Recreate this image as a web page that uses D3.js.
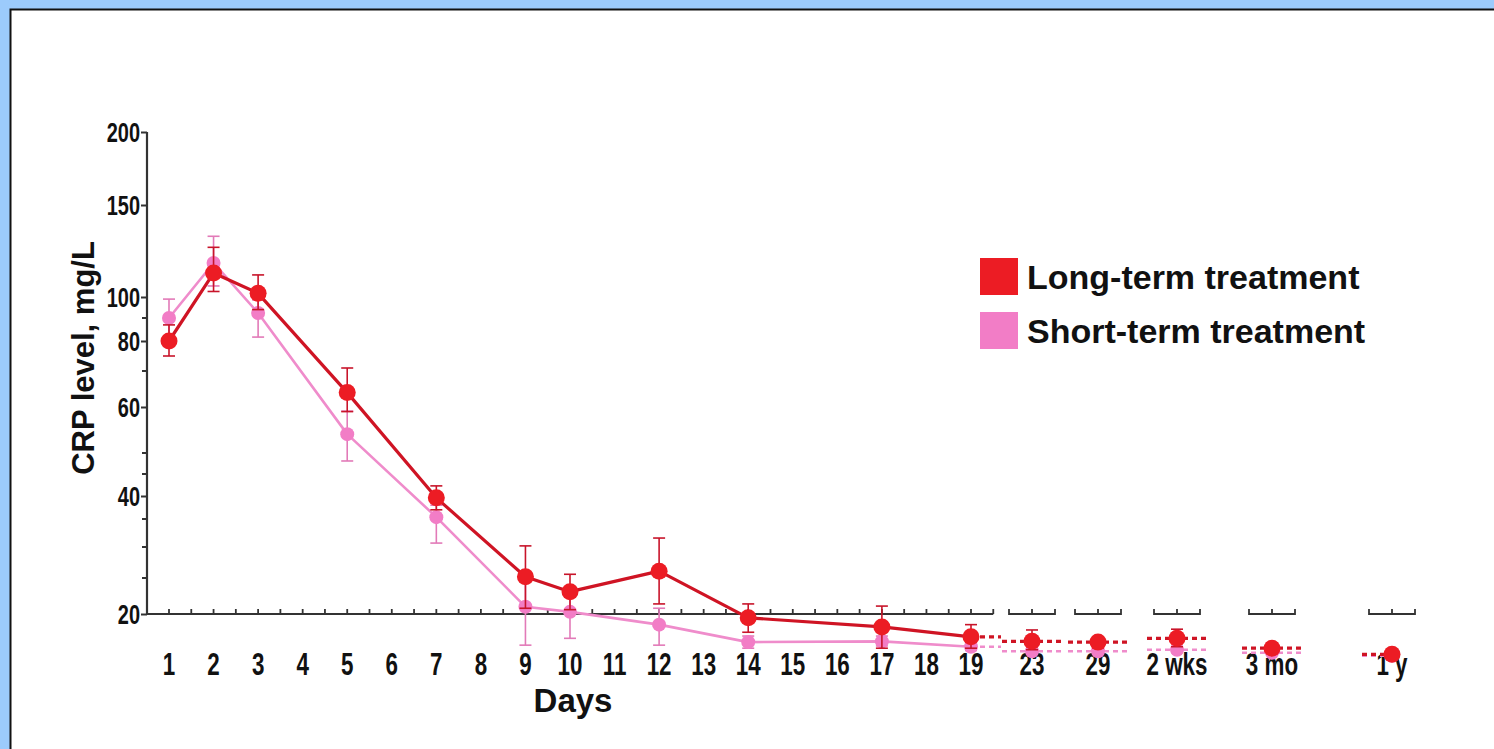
<!DOCTYPE html>
<html>
<head>
<meta charset="utf-8">
<script src="https://cdnjs.cloudflare.com/ajax/libs/d3/7.8.5/d3.min.js"></script>
<style>
    html, body { margin: 0; padding: 0; background: #9ccbfc; }
    svg { display: block; }
    .tick-label { font-family: "Liberation Sans Narrow", "Arial Narrow", sans-serif; font-weight: bold; fill: #111; }
    .title { font-family: "Liberation Sans", Arial, sans-serif; font-weight: bold; fill: #111; }
</style>
</head>
<body>
<div class="chart"></div>
<script>
(function() {

    // x categories that carry data
    var categories = ['1', '2', '3', '5', '7', '9', '10', '12', '14', '17', '19', '23', '29', '2 wks', '3 mo', '1 y'];

    // axis labels
    var dayLabels = ['1', '2', '3', '4', '5', '6', '7', '8', '9', '10', '11', '12', '13', '14', '15', '16', '17', '18', '19'];
    var laterLabels = ['23', '29', '2 wks', '3 mo', '1 y'];
    var yTickLabels = [20, 40, 60, 80, 100, 150, 200];
    var yMinorTicks = [25, 30, 35, 45, 50, 70, 90];

    // CRP, mg/L
    var longMean  = [80, 113, 102, 64, 39.6, 25.2, 23.1, 26.1, 19.5, 18.3, 17.0, 16.4, 16.3, 16.8, 15.5, 14.7];
    var longLow   = [75, 103, 94, 59, 37, 20.8, 20.6, 21.4, 17.6, 15.5, 15.5, 15.3, 15.6, 15.7, 15.0, 14.2];
    var longHigh  = [87, 127, 112, 71, 42.3, 30.2, 25.6, 31.6, 21.4, 21.1, 18.6, 17.9, 17.0, 18.0, 16.2, 15.3];

    var shortMean = [90, 118.5, 92.4, 54.1, 35.4, 21, 20.3, 18.6, 16.3, 16.4, 15.7, 15.1, 15.1, 15.3, 14.9, 14.5];
    var shortLow  = [82, 106, 81.7, 48.1, 30.7, 15.9, 16.8, 15.9, 15.5, 15.8, 15.2, 14.7, 14.7, 14.9, 14.6, 14.2];
    var shortHigh = [99, 133, 98.6, 59.1, 38, 25.5, 23.1, 20.8, 17.1, 17.1, 16.2, 15.5, 15.5, 15.7, 15.2, 14.8];

    var W = 1494, H = 749;

    var svg = d3.select('.chart')
        .append('svg')
        .attr('width', W)
        .attr('height', H);

    // white panel with black edge
    svg.append('rect')
        .attr('x', 10.5)
        .attr('y', 9.5)
        .attr('width', W + 20)
        .attr('height', H + 20)
        .attr('fill', '#fff')
        .attr('stroke', '#111')
        .attr('stroke-width', 2);

    // the y axis is not linear nor log in the original, so map it piecewise
    var y = d3.scaleLinear()
        .domain([10, 20, 25, 30, 35, 40, 45, 50, 60, 70, 80, 90, 100, 150, 200])
        .range([690, 614, 578, 547, 519, 496, 474, 453, 407, 371, 341, 318, 297, 205, 132]);

    var xDay = d3.scaleLinear().domain([1, 19]).range([169, 971]);
    var xLater = d3.scaleLinear()
        .domain([0, 1, 2, 3, 4])
        .range([1032, 1098, 1177, 1272, 1392]);

    function xPos(cat) {
        var li = laterLabels.indexOf(cat);
        return li >= 0 ? xLater(li) : xDay(+cat);
    }

    var axisColor = '#333';
    var y0 = y(20);

    // y axis
    var yAxis = d3.axisLeft(y)
        .tickValues(yTickLabels)
        .tickSize(6)
        .tickFormat(d3.format('d'));

    var gy = svg.append('g')
        .attr('transform', 'translate(147,0)')
        .call(yAxis);
    gy.select('.domain').remove();
    gy.selectAll('.tick line').attr('stroke', axisColor).attr('stroke-width', 2);
    gy.selectAll('.tick text')
        .attr('class', 'tick-label')
        .attr('x', 0)
        .attr('dy', 0)
        .attr('text-anchor', 'end')
        .attr('transform', 'translate(-7,9) scale(0.74,1)')
        .style('font-size', '27px');

    svg.append('line')
        .attr('x1', 147).attr('x2', 147)
        .attr('y1', y(200)).attr('y2', y0 + 1)
        .attr('stroke', axisColor).attr('stroke-width', 2.2);

    svg.selectAll('.yminor')
        .data(yMinorTicks)
        .enter()
        .append('line')
        .attr('class', 'yminor')
        .attr('x1', 142).attr('x2', 147)
        .attr('y1', function(d) { return y(d); })
        .attr('y2', function(d) { return y(d); })
        .attr('stroke', axisColor).attr('stroke-width', 2);

    // main x axis (days 1-19)
    var halfDay = (xDay(2) - xDay(1)) / 2;
    svg.append('line')
        .attr('x1', 146).attr('x2', xDay(19) + halfDay)
        .attr('y1', y0).attr('y2', y0)
        .attr('stroke', axisColor).attr('stroke-width', 2.2);

    var dayTicks = d3.range(1, 19.51, 0.5);
    svg.selectAll('.xtick')
        .data(dayTicks)
        .enter()
        .append('line')
        .attr('class', 'xtick')
        .attr('x1', function(d) { return xDay(d); })
        .attr('x2', function(d) { return xDay(d); })
        .attr('y1', y0).attr('y2', y0 - 5)
        .attr('stroke', axisColor).attr('stroke-width', 1.8);

    // short broken segments for the later time points
    var seg = svg.selectAll('.seg')
        .data(laterLabels)
        .enter()
        .append('g')
        .attr('class', 'seg')
        .attr('transform', function(d, i) { return 'translate(' + xLater(i) + ',' + y0 + ')'; });

    seg.append('line')
        .attr('x1', -23).attr('x2', 23)
        .attr('stroke', axisColor).attr('stroke-width', 2.2);

    seg.selectAll('.segtick')
        .data([-23, 0, 23])
        .enter()
        .append('line')
        .attr('x1', function(d) { return d; })
        .attr('x2', function(d) { return d; })
        .attr('y1', 1).attr('y2', -5)
        .attr('stroke', axisColor).attr('stroke-width', 1.8);

    // x tick labels
    var allLabels = dayLabels.concat(laterLabels);
    svg.selectAll('.xlabel')
        .data(allLabels)
        .enter()
        .append('text')
        .attr('class', 'tick-label')
        .attr('text-anchor', 'middle')
        .attr('transform', function(d) { return 'translate(' + xPos(d) + ',675) scale(0.7,1)'; })
        .style('font-size', '32px')
        .text(function(d) { return d; });

    // axis titles
    svg.append('text')
        .attr('class', 'title')
        .attr('x', 573).attr('y', 712)
        .attr('text-anchor', 'middle')
        .style('font-size', '33px')
        .text('Days');

    svg.append('text')
        .attr('class', 'title')
        .attr('transform', 'translate(94,358) rotate(-90)')
        .attr('text-anchor', 'middle')
        .style('font-size', '31px')
        .text('CRP level, mg/L');

    // series
    function makeSeries(mean, low, high) {
        return categories.map(function(c, i) {
            return { cat: c, x: xPos(c), v: mean[i], lo: low[i], hi: high[i] };
        });
    }

    var series = [
        { name: 'Short-term treatment', data: makeSeries(shortMean, shortLow, shortHigh),
          line: '#ef8ccb', dot: '#f27dc6', err: '#e27ab8', r: 7, lw: 2.6 },
        { name: 'Long-term treatment', data: makeSeries(longMean, longLow, longHigh),
          line: '#cf1424', dot: '#ec1c24', err: '#c8142a', r: 8.5, lw: 3.2 }
    ];

    var splitIndex = categories.indexOf('19');
    var line = d3.line()
        .x(function(d) { return d.x; })
        .y(function(d) { return y(d.v); });

    series.forEach(function(s) {
        var g = svg.append('g');
        var solid = s.data.slice(0, splitIndex + 1);
        var later = s.data.slice(splitIndex);

        // error bars
        var eb = g.selectAll('.err')
            .data(s.data)
            .enter()
            .append('g')
            .attr('stroke', s.err)
            .attr('stroke-width', 1.6);
        eb.append('line')
            .attr('x1', function(d) { return d.x; })
            .attr('x2', function(d) { return d.x; })
            .attr('y1', function(d) { return y(d.lo); })
            .attr('y2', function(d) { return y(d.hi); });
        eb.append('line')
            .attr('x1', function(d) { return d.x - 6; })
            .attr('x2', function(d) { return d.x + 6; })
            .attr('y1', function(d) { return y(d.hi); })
            .attr('y2', function(d) { return y(d.hi); });
        eb.append('line')
            .attr('x1', function(d) { return d.x - 6; })
            .attr('x2', function(d) { return d.x + 6; })
            .attr('y1', function(d) { return y(d.lo); })
            .attr('y2', function(d) { return y(d.lo); });

        g.append('path')
            .datum(solid)
            .attr('fill', 'none')
            .attr('stroke', s.line)
            .attr('stroke-width', s.lw)
            .attr('stroke-linejoin', 'round')
            .attr('d', line);

        // dashed stubs around the later points
        g.selectAll('.stub')
            .data(later)
            .enter()
            .append('line')
            .attr('x1', function(d, i) { return i === 0 ? d.x : d.x - 30; })
            .attr('x2', function(d, i) { return i === later.length - 1 ? d.x : d.x + 30; })
            .attr('y1', function(d) { return y(d.v); })
            .attr('y2', function(d) { return y(d.v); })
            .attr('stroke', s.line)
            .attr('stroke-width', s.lw)
            .attr('stroke-dasharray', '5,4');

        g.selectAll('circle')
            .data(s.data)
            .enter()
            .append('circle')
            .attr('cx', function(d) { return d.x; })
            .attr('cy', function(d) { return y(d.v); })
            .attr('r', s.r)
            .attr('fill', s.dot);
    });

    // legend
    var legend = svg.selectAll('.legend')
        .data(series.slice().reverse())
        .enter()
        .append('g')
        .attr('class', 'legend')
        .attr('transform', function(d, i) { return 'translate(980,' + (258 + i * 54) + ')'; });

    legend.append('rect')
        .attr('width', 38)
        .attr('height', 37)
        .attr('fill', function(d) { return d.dot; });

    legend.append('text')
        .attr('class', 'title')
        .attr('x', 47)
        .attr('y', 31)
        .style('font-size', '34px')
        .text(function(d) { return d.name; });

})()
</script>
</body>
</html>
